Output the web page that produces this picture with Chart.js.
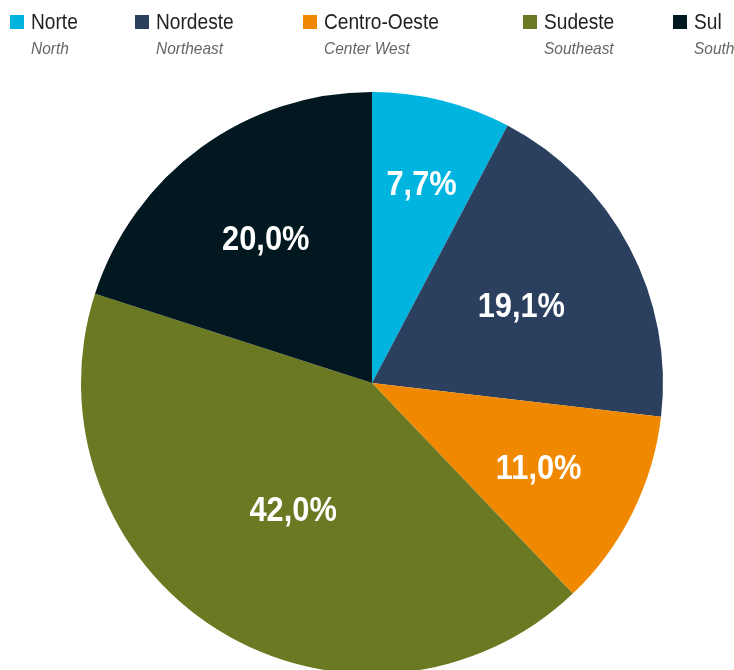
<!DOCTYPE html>
<html>
<head>
<meta charset="utf-8">
<script src="https://cdn.jsdelivr.net/npm/chart.js@4"></script>
<style>
  html, body { margin: 0; padding: 0; background: #fff; overflow: hidden; width: 734px; height: 670px; }
  #wrap { position: absolute; left: 0; top: 0; width: 734px; height: 680px; }
  #legend { position: absolute; left: 0; top: 0; width: 734px; height: 70px; font-family: "Liberation Sans Narrow", "Liberation Sans", Arial, sans-serif; z-index: 2; }
  .item { position: absolute; top: 9px; }
  .sw { position: absolute; left: 0; top: 6px; width: 14px; height: 14px; }
  .main { position: absolute; left: 21px; top: 0; font-size: 22px; color: #231f20; white-space: nowrap; transform: scaleX(0.87); transform-origin: 0 0; }
  .sub { position: absolute; left: 21px; top: 30px; font-size: 17px; font-style: italic; color: #666; white-space: nowrap; transform: scaleX(0.91); transform-origin: 0 0; }
</style>
</head>
<body>
<div id="legend"></div>
<div id="wrap"><canvas id="c"></canvas></div>
<script>
const categories = ["Norte", "Nordeste", "Centro-Oeste", "Sudeste", "Sul"];
const subtitles = ["North", "Northeast", "Center West", "Southeast", "South"];
const shares = [7.7, 19.1, 11.0, 42.0, 20.0];
const colors = ["#00B4E0", "#2B3F5F", "#F08800", "#6B7A22", "#011820"];
const legendX = [10, 135, 303, 523, 673];
const labelRadius = [0.71, 0.58, 0.64, 0.51, 0.62];

const legend = document.getElementById('legend');
categories.forEach((c, i) => {
  const d = document.createElement('div');
  d.className = 'item';
  d.style.left = legendX[i] + 'px';
  d.innerHTML = '<div class="sw" style="background:' + colors[i] + '"></div>' +
    '<div class="main">' + c + '</div><div class="sub">' + subtitles[i] + '</div>';
  legend.appendChild(d);
});

const fmt = v => v.toFixed(1).replace('.', ',') + '%';

const labelPlugin = {
  id: 'sliceLabels',
  afterDatasetsDraw(chart) {
    const ctx = chart.ctx;
    const meta = chart.getDatasetMeta(0);
    meta.data.forEach((arc, i) => {
      const p = arc.getProps(['x', 'y', 'startAngle', 'endAngle', 'outerRadius'], true);
      const a = (p.startAngle + p.endAngle) / 2;
      const r = p.outerRadius * labelRadius[i];
      const x = p.x + Math.cos(a) * r, y = p.y + Math.sin(a) * r + 3;
      ctx.save();
      ctx.translate(x, y);
      ctx.scale(0.88, 1);
      ctx.fillStyle = '#ffffff';
      ctx.font = 'bold 35px "Liberation Sans Narrow", "Liberation Sans", Arial, sans-serif';
      ctx.textAlign = 'center';
      ctx.textBaseline = 'middle';
      ctx.fillText(fmt(shares[i]), 0, 0);
      ctx.restore();
    });
  }
};

new Chart(document.getElementById('c'), {
  type: 'pie',
  data: {
    labels: categories,
    datasets: [{ data: shares, backgroundColor: colors, borderWidth: 0, hoverOffset: 0 }]
  },
  options: {
    responsive: true,
    maintainAspectRatio: false,
    animation: false,
    layout: { padding: { left: 10, right: 0, top: 92, bottom: 6 } },
    plugins: { legend: { display: false }, tooltip: { enabled: false } }
  },
  plugins: [labelPlugin]
});
</script>
</body>
</html>
